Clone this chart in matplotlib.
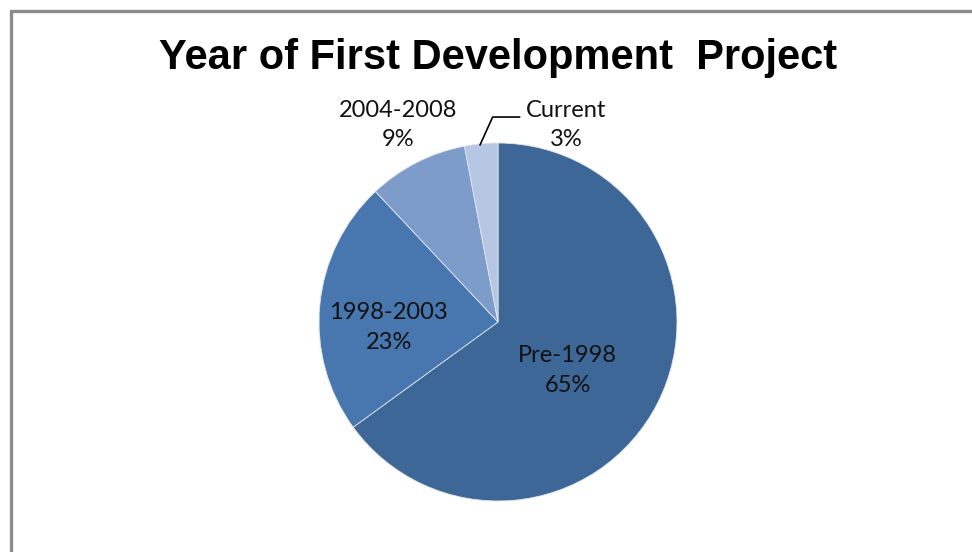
import matplotlib
matplotlib.use("Agg")
import matplotlib.pyplot as plt
from matplotlib.patches import Rectangle

# -----------------------------
# Data
# -----------------------------
labels = ["Pre-1998", "1998-2003", "2004-2008", "Current"]
shares = [65, 23, 9, 3]
colors = ["#3d6797", "#4877b0", "#7e9cc9", "#b7c6e2"]

W, H = 972, 552
fig = plt.figure(figsize=(W / 100, H / 100), dpi=100)

# grey frame (cropped at right / bottom like the screenshot)
fig.patches.append(Rectangle((10.5 / W, -0.05), 1.2, (H - 10.5) / H + 0.05,
                             transform=fig.transFigure, fill=False,
                             edgecolor="#8c8c8c", linewidth=2.4))

fig.text(498 / W, 1 - 58 / H, "Year of First Development  Project",
         ha="center", va="center", fontsize=30, fontweight="bold",
         family="Liberation Sans")

# pie axes: center (498, 322) px, radius 179 px
R = 179
ax = fig.add_axes([(498 - R) / W, (H - 322 - R) / H, 2 * R / W, 2 * R / H])
ax.pie(shares, colors=colors, startangle=90, counterclock=False,
       wedgeprops=dict(linewidth=0.6, edgecolor="#dfe6f0"))
ax.set_xlim(-1, 1)
ax.set_ylim(-1, 1)
ax.set_aspect("equal")
ax.axis("off")

lab_font = dict(family="Lato", fontsize=17, color="#111111",
                ha="center", va="center", linespacing=1.5)
pos = [(0.39, -0.27), (-0.61, -0.03), (-0.56, 1.10), (0.38, 1.10)]
for lab, val, (x, y) in zip(labels, shares, pos):
    ax.text(x, y, f"{lab}\n{val}%", clip_on=False, **lab_font)

# leader line for the small slice
ax.plot([-0.10, -0.03, 0.12], [0.99, 1.145, 1.145], color="black",
        linewidth=1.2, clip_on=False)

fig.savefig("out.png", dpi=100)
